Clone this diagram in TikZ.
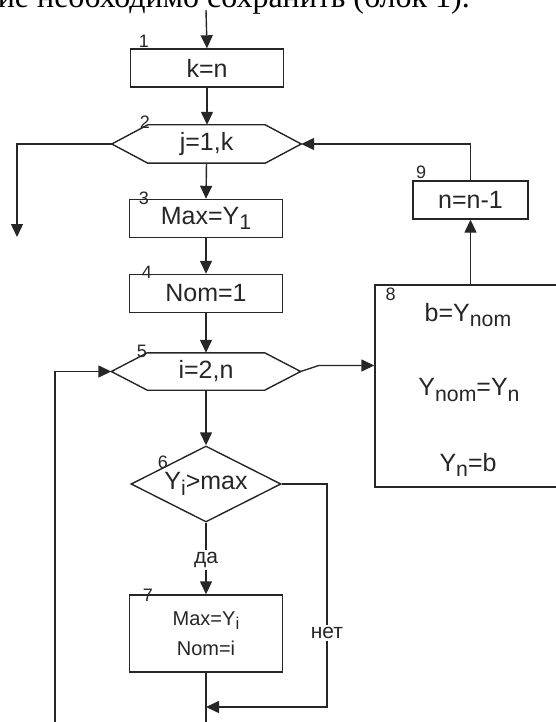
\documentclass[tikz,border=0pt]{standalone}
\usepackage{fontspec}
\usepackage{graphicx}
\setmainfont{Liberation Serif}
\newfontfamily\flowfont{Liberation Sans}
\usetikzlibrary{arrows.meta,shapes.geometric,calc}
% lowered index used in the block texts (Y_1, Y_nom, ...)
\newcommand\lowsub[1]{\raisebox{-0.22em}{\scalebox{0.85}{#1}}}
% outline of a loop block drawn round its core node
\newcommand\loopoutline[1]{%
  \coordinate (#1l) at ($(#1.west)+(-36,0)$);
  \coordinate (#1r) at ($(#1.east)+(36,0)$);
  \draw[line] (#1.north west) -- (#1.north east) -- (#1r) -- (#1.south east)
    -- (#1.south west) -- (#1l) -- cycle;}

\begin{document}
\begin{tikzpicture}[x=1pt,y=-1pt,
  line/.style={draw=black!85, line width=1.4pt},
  flow/.style={line, -{Triangle[length=13pt,width=12pt]}},
  txt/.style={font=\flowfont\fontsize{25}{28}\selectfont, text=black!85},
  small/.style={font=\flowfont\fontsize{20}{30}\selectfont, text=black!85},
  stepbox/.style={line, txt, rectangle, minimum width=153pt, minimum height=38pt, inner sep=0pt},
  loopcore/.style={txt, rectangle, minimum width=117pt, minimum height=38pt, inner sep=0pt},
  testbox/.style={line, txt, diamond, aspect=2, minimum width=150pt, minimum height=76pt, inner sep=0pt},
  num/.style={font=\flowfont\fontsize{18}{18}\selectfont, text=black!85, inner sep=0pt},
  branch/.style={font=\flowfont\fontsize{21}{21}\selectfont, text=black!85, fill=white, inner sep=2pt},
]
\useasboundingbox (0,0) rectangle (556,722);
\clip (0,0) rectangle (556,722);

% line of the running text above the scheme
\node[anchor=base east, inner sep=0pt, font=\fontsize{32}{32}\selectfont] (caption) at (470,8)
  {ие необходимо сохранить (блок 1).};

% blocks
\node[stepbox] (b1) at (207,68) {k=n};
\node[loopcore] (h2) at (206.5,144) {j=1,k};
\loopoutline{h2}
\node[stepbox] (b3) at (206,218.5) {Max=Y\lowsub{1}};
\node[stepbox] (b4) at (206,293.5) {Nom=1};
\node[loopcore, minimum height=37pt] (h5) at (206,371.5) {i=2,n};
\loopoutline{h5}
\node[testbox] (d6) at (206,484) {Y\lowsub{i}>max};
\node[stepbox, small, minimum height=77pt, align=center] (b7) at (206,633.5)
  {Max=Y\lowsub{i}\\Nom=i};
\node[stepbox, minimum width=186pt, minimum height=202pt] (b8) at (468,386) {};
\node[txt] (t8a) at (468,315) {b=Y\lowsub{nom}};
\node[txt] (t8b) at (469,390) {Y\lowsub{nom}=Y\lowsub{n}};
\node[txt] (t8c) at (468,465) {Y\lowsub{n}=b};
\node[stepbox, minimum width=115pt] (b9) at (470.5,200) {n=n-1};

% block numbers
\node[num] (n1) at (144,41) {1};
\node[num] (n2) at (145,122) {2};
\node[num] (n3) at (144,198) {3};
\node[num] (n4) at (147,272) {4};
\node[num] (n5) at (142,351) {5};
\node[num] (n6) at (163,462) {6};
\node[num] (n7) at (148,595) {7};
\node[num] (n8) at (390.5,294) {8};
\node[num] (n9) at (421,172) {9};

% free ends of the connectors
\coordinate (entry) at (206,10);
\coordinate (exit) at (17,237);
\coordinate (nocorner) at (327,707);
\coordinate (join) at (206,707);
\coordinate (down) at (206,730);
\coordinate (back) at (55,730);

% connectors
\draw[flow] (entry) -- (b1.north);
\draw[flow] (b1.south) -- (h2.north -| b1.south);
\draw[flow] (h2l) -| (exit);
\draw[flow] (h2.south) -- (b3.north);
\draw[flow] (b3.south) -- (b4.north);
\draw[flow] (b4.south) -- (h5.north);
\draw[flow] (h5.south) -- (d6.north);
\draw[flow] (h5r) -- ++(18,-6) coordinate (kink) -- (kink -| b8.west);
\draw[flow] (b9.south |- b8.north) -- (b9.south);
\draw[flow] (b9.north) |- (h2r);
\draw[flow] (d6.south) -- node[branch, pos=0.52] (yes) {да} (b7.north);
\draw[flow] (d6.east) -| node[branch, pos=0.834] (no) {нет} (nocorner) -- (join);
\draw[line] (b7.south) -- (down);
\draw[flow] (back) |- (h5l);
\end{tikzpicture}
\end{document}
